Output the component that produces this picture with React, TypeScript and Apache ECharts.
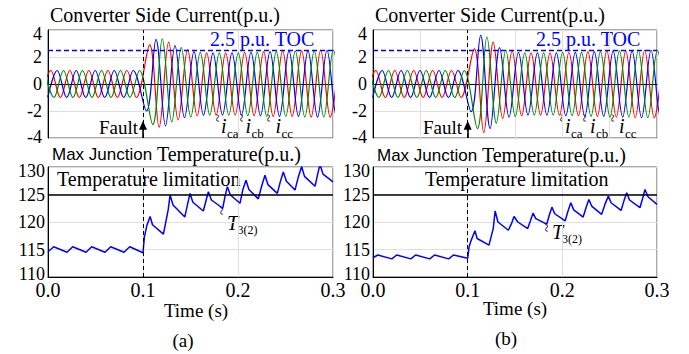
import React, { useEffect, useRef } from "react";
import * as echarts from "echarts";

// ---------- data ----------
const HALF_PERIOD = 0.01; // 50 Hz, extremes every 10 ms
const FAULT_TIME = 0.1;
const POST_FAULT_LAG = 0.004; // fault current lags a little
const redStart = -0.007;
const blueStart = -0.0003;
const greenStart = -0.0037;

// successive extremes (peak / trough) of each phase current, p.u.
const redA = [-1, 1, -1, 1, -1, 1, -1, 1, -1, 1, -1, 2.9, -3.2, 3.1, -2.65, 2.55, -2.35, 2.3, -2.3, 2.3, -2.3, 2.35, -2.35, 2.4, -2.4, 2.45, -2.4, 2.45, -2.45, 2.5, -2.45, 2.5];
const blueA = [-1, 1, -1, 1, -1, 1, -1, 1, -1, 1, -2.0, 3.3, -3.1, 2.85, -2.5, 2.4, -2.3, 2.3, -2.3, 2.3, -2.3, 2.35, -2.35, 2.4, -2.4, 2.45, -2.4, 2.45, -2.45, 2.5, -2.45, 2.5];
const greenA = [1, -1, 1, -1, 1, -1, 1, -1, 1, -1, 1, -3.0, 3.35, -2.8, 2.7, -2.45, 2.35, -2.3, 2.3, -2.3, 2.3, -2.35, 2.35, -2.4, 2.4, -2.4, 2.45, -2.45, 2.45, -2.45, 2.5, -2.5];

const redB = [-1, 1, -1, 1, -1, 1, -1, 1, -1, 1, -1, 2.6, -3.6, 3.1, -2.55, 2.45, -2.35, 2.3, -2.3, 2.3, -2.3, 2.35, -2.35, 2.4, -2.4, 2.45, -2.45, 2.45, -2.5, 2.5, -2.5, 2.5];
const blueB = [-1, 1, -1, 1, -1, 1, -1, 1, -1, 1, -2.05, 3.6, -3.3, 2.7, -2.45, 2.35, -2.3, 2.3, -2.3, 2.3, -2.35, 2.35, -2.4, 2.4, -2.4, 2.45, -2.45, 2.45, -2.5, 2.5, -2.5, 2.5];
const greenB = [1, -1, 1, -1, 1, -1, 1, -1, 1, -1, 1, -3.3, 3.5, -2.9, 2.5, -2.4, 2.3, -2.3, 2.3, -2.3, 2.35, -2.35, 2.35, -2.4, 2.4, -2.45, 2.45, -2.45, 2.5, -2.5, 2.5, -2.5];

// max junction temperature
const tempTimeA = [0, 0.006, 0.02, 0.026, 0.04, 0.046, 0.06, 0.066, 0.08, 0.086, 0.1, 0.1015, 0.104, 0.1075, 0.11, 0.1215, 0.1265, 0.1285, 0.1316, 0.144, 0.147, 0.1495, 0.1525, 0.1635, 0.1665, 0.1688, 0.172, 0.1839, 0.1865, 0.1888, 0.192, 0.2021, 0.205, 0.2084, 0.2115, 0.2214, 0.225, 0.2284, 0.2315, 0.2414, 0.2445, 0.2477, 0.251, 0.26, 0.2635, 0.267, 0.27, 0.2811, 0.284, 0.2863, 0.2895, 0.3];
const tempValueA = [114.6, 115.5, 114.5, 115.5, 114.5, 115.5, 114.5, 115.5, 114.5, 115.5, 114.4, 117.3, 119.3, 121.0, 119.5, 117.8, 122.2, 124.9, 123.1, 120.9, 123.3, 125.2, 123.6, 122.0, 124.0, 125.5, 124.0, 122.5, 124.8, 126.4, 124.9, 123.4, 125.8, 127.6, 125.9, 124.2, 126.6, 128.5, 126.8, 125.2, 127.3, 129.1, 127.4, 125.8, 128.2, 130.1, 128.3, 126.5, 128.8, 130.5, 128.7, 127.3];

const tempTimeB = [0, 0.005, 0.02, 0.025, 0.04, 0.045, 0.06, 0.065, 0.08, 0.085, 0.1, 0.1015, 0.104, 0.1077, 0.11, 0.1225, 0.127, 0.129, 0.132, 0.143, 0.1465, 0.149, 0.153, 0.1634, 0.1665, 0.169, 0.172, 0.1835, 0.1865, 0.189, 0.192, 0.203, 0.206, 0.209, 0.212, 0.222, 0.225, 0.228, 0.231, 0.2415, 0.245, 0.2486, 0.2515, 0.262, 0.265, 0.268, 0.271, 0.282, 0.285, 0.2873, 0.2905, 0.3];
const tempValueB = [113.5, 114.0, 113.3, 114.0, 113.3, 114.0, 113.3, 114.0, 113.3, 114.0, 113.4, 115.5, 116.8, 118.4, 117.0, 115.8, 118.8, 122.0, 120.0, 118.5, 119.8, 121.0, 120.0, 118.8, 120.3, 121.6, 120.6, 119.6, 121.4, 122.7, 121.5, 120.2, 122.0, 123.5, 122.2, 120.9, 122.6, 124.1, 122.9, 121.4, 123.2, 124.7, 123.5, 122.1, 123.8, 125.3, 124.0, 122.6, 124.4, 125.9, 124.6, 123.2];

const TOC_LEVEL = 2.5;
const TEMP_LIMIT = 125;
const currentTicks = { min: -4, max: 4, interval: 2 };
const tempTicks = { min: 110, max: 130, interval: 5 };
const timeRange = { min: 0, max: 0.3 };

// ---------- helpers ----------
const serif = "Liberation Serif";
const sans = "Liberation Sans";
const RED = "#ff0000";
const BLUE = "#0000ff";
const GREEN = "#008a00";

function extremesToPoints(start: number, values: number[]) {
  return values.map((v, i) => {
    let t = start + HALF_PERIOD * i;
    if (t >= FAULT_TIME - 0.001) t += POST_FAULT_LAG;
    return [t, v];
  });
}
function zip(ts: number[], vs: number[]) {
  return ts.map((t, i) => [t, vs[i]]);
}

function txt(text: string, x: number, y: number, size: number, extra: any = {}) {
  const align = extra.align || "left";
  const style: any = {
    text,
    fontSize: size,
    fontFamily: extra.fontFamily || serif,
    fontStyle: extra.fontStyle || "normal",
    fill: extra.fill || "#000",
    align,
    verticalAlign: "middle",
  };
  if (extra.rich) style.rich = extra.rich;
  return {
    type: "text",
    x,
    y,
    silent: true,
    rotation: extra.rotation || 0,
    style,
  };
}

function currentSeries(grid: number, r: number[], b: number[], g: number[]) {
  const base = {
    type: "line",
    xAxisIndex: grid,
    yAxisIndex: grid,
    showSymbol: false,
    symbol: "none",
    smooth: 0.36,
    silent: true,
    clip: true,
  };
  return [
    { ...base, name: "ica", data: extremesToPoints(redStart, r), lineStyle: { color: RED, width: 1.2 } },
    { ...base, name: "icb", data: extremesToPoints(blueStart, b), lineStyle: { color: BLUE, width: 1.2 } },
    { ...base, name: "icc", data: extremesToPoints(greenStart, g), lineStyle: { color: GREEN, width: 1.2 } },
    {
      type: "line",
      xAxisIndex: grid,
      yAxisIndex: grid,
      data: [],
      silent: true,
      markLine: {
        silent: true,
        symbol: ["none", "none"],
        label: { show: false },
        animation: false,
        data: [
          { yAxis: TOC_LEVEL, lineStyle: { color: BLUE, type: [5, 3], width: 1.3 } },
          { xAxis: FAULT_TIME, lineStyle: { color: "#000", type: [4, 3], width: 1 } },
          [
            { coord: [FAULT_TIME, currentTicks.min], lineStyle: { color: "#000", type: "solid", width: 1.6 } },
            { coord: [FAULT_TIME, -3.3] },
          ],
        ],
      },
      markPoint: {
        silent: true,
        animation: false,
        label: { show: false },
        data: [
          {
            coord: [FAULT_TIME, -3.05],
            symbol: "triangle",
            symbolSize: [8, 9],
            itemStyle: { color: "#000" },
          },
        ],
      },
    },
  ];
}

function tempSeries(grid: number, ts: number[], vs: number[]) {
  return {
    type: "line",
    xAxisIndex: grid,
    yAxisIndex: grid,
    showSymbol: false,
    symbol: "none",
    silent: true,
    clip: true,
    data: zip(ts, vs),
    lineStyle: { color: BLUE, width: 1.5 },
    markLine: {
      silent: true,
      symbol: ["none", "none"],
      label: { show: false },
      animation: false,
      data: [
        { yAxis: TEMP_LIMIT, lineStyle: { color: "#000", type: "solid", width: 1.5 } },
        { xAxis: FAULT_TIME, lineStyle: { color: "#000", type: [4, 3], width: 1 } },
      ],
    },
  };
}

function xAxisCfg(grid: number, interval: number, showLabels: boolean) {
  return {
    type: "value",
    gridIndex: grid,
    min: timeRange.min,
    max: timeRange.max,
    interval,
    axisLine: { show: true, lineStyle: { color: "#000", width: 1 } },
    axisTick: { show: false },
    axisLabel: {
      show: showLabels,
      fontFamily: serif,
      fontSize: 20,
      color: "#000",
      margin: 3,
      formatter: (v: number) => v.toFixed(1),
    },
    splitLine: { show: true, lineStyle: { color: "#dedede", width: 1 } },
  };
}

function yAxisCfg(grid: number, ticks: any, margin: number, shiftMin: number, shiftMax: number) {
  return {
    type: "value",
    gridIndex: grid,
    min: ticks.min,
    max: ticks.max,
    interval: ticks.interval,
    axisLine: { show: true, lineStyle: { color: "#000", width: 1 } },
    axisTick: { show: false },
    axisLabel: {
      fontFamily: serif,
      fontSize: 18,
      color: "#000",
      margin,
      formatter: (v: number) => {
        if (v === ticks.min) return "{lo|" + v + "}";
        if (v === ticks.max) return "{hi|" + v + "}";
        return "{n|" + v + "}";
      },
      rich: {
        lo: { fontFamily: serif, fontSize: 18, color: "#000", padding: [0, 0, shiftMin * 2, 0] },
        hi: { fontFamily: serif, fontSize: 18, color: "#000", padding: [shiftMax * 2, 0, 0, 0] },
        n: { fontFamily: serif, fontSize: 18, color: "#000" },
      },
    },
    splitLine: { show: true, lineStyle: { color: "#dedede", width: 1 } },
  };
}

function squiggle(x: number, y: number) {
  return txt("~", x, y, 15, { align: "center", rotation: Math.PI / 2 });
}

function phaseLabel(x: number, sub: string) {
  return [txt("i", x, 126, 20, { fontStyle: "italic" }), txt(sub, x + 6, 133.5, 13)];
}

export default function App() {
  const ref = useRef<HTMLDivElement>(null);
  useEffect(() => {
    if (!ref.current) return;
    const chart = echarts.init(ref.current, undefined, { renderer: "svg" });
    const gridStyle = { show: true, borderColor: "#555", borderWidth: 1, backgroundColor: "transparent" };
    const titleRich = {
      a: { fontFamily: sans, fontSize: 17, fill: "#000", color: "#000" },
      b: { fontFamily: serif, fontSize: 20, fill: "#000", color: "#000" },
    };
    const option: any = {
      animation: false,
      backgroundColor: "#fff",
      textStyle: { fontFamily: serif },
      grid: [
        { left: 48, top: 30, width: 285, height: 108, ...gridStyle },
        { left: 48, top: 167, width: 285, height: 110, ...gridStyle },
        { left: 373, top: 30, width: 284, height: 108, ...gridStyle },
        { left: 373, top: 167, width: 284, height: 110, ...gridStyle },
      ],
      xAxis: [xAxisCfg(0, 0.1, false), xAxisCfg(1, 0.1, true), xAxisCfg(2, 0.05, false), xAxisCfg(3, 0.1, true)],
      yAxis: [
        yAxisCfg(0, currentTicks, 6, 1.5, 4),
        yAxisCfg(1, tempTicks, 3, 3.5, 4),
        yAxisCfg(2, currentTicks, 6, 1.5, 4),
        yAxisCfg(3, tempTicks, 3, 3.5, 4),
      ],
      series: [
        ...currentSeries(0, redA, blueA, greenA),
        tempSeries(1, tempTimeA, tempValueA),
        ...currentSeries(2, redB, blueB, greenB),
        tempSeries(3, tempTimeB, tempValueB),
      ],
      graphic: [
        txt("Converter Side Current(p.u.)", 50, 15, 20),
        txt("Converter Side Current(p.u.)", 375, 15, 20),
        txt("2.5 p.u. TOC", 210, 39, 20, { fill: BLUE }),
        txt("2.5 p.u. TOC", 536, 39, 20, { fill: BLUE }),
        txt("Fault", 138, 127, 19, { align: "right" }),
        txt("Fault", 462, 127, 19, { align: "right" }),
        ...phaseLabel(221, "ca"),
        ...phaseLabel(245.5, "cb"),
        ...phaseLabel(275.5, "cc"),
        ...phaseLabel(565, "ca"),
        ...phaseLabel(590, "cb"),
        ...phaseLabel(619, "cc"),
        squiggle(218, 118),
        squiggle(242, 118),
        squiggle(269, 118),
        squiggle(562, 118),
        squiggle(585, 118),
        squiggle(613, 118),
        txt("{a|Max Junction }{b|Temperature(p.u.)}", 52, 154, 20, { rich: titleRich }),
        txt("{a|Max Junction }{b|Temperature(p.u.)}", 377, 155, 20, { rich: titleRich }),
        txt("Temperature limitation", 57, 179, 20),
        txt("Temperature limitation", 425, 178.5, 20),
        txt("T", 227, 222.5, 20, { fontStyle: "italic" }),
        txt("3(2)", 237.5, 229.5, 12),
        squiggle(222, 211),
        txt("T", 552, 232, 20, { fontStyle: "italic" }),
        txt("3(2)", 562, 239, 12),
        squiggle(547, 228),
        txt("Time (s)", 196, 310, 19, { align: "center" }),
        txt("Time (s)", 515, 308, 19, { align: "center" }),
        txt("(a)", 183, 340, 19, { align: "center" }),
        txt("(b)", 506, 338, 19, { align: "center" }),
      ],
    };
    chart.setOption(option);
    return () => chart.dispose();
  }, []);
  return (
    <div
      ref={ref}
      style={{ position: "fixed", left: 0, top: 0, width: 689, height: 354, background: "#fff" }}
    />
  );
}
